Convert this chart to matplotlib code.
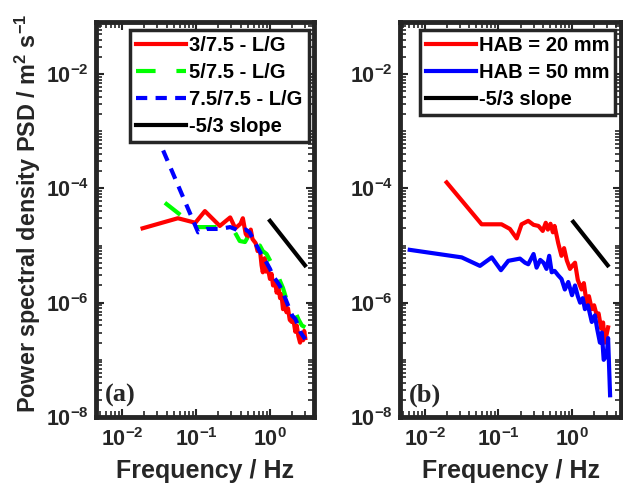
import matplotlib
matplotlib.use('Agg')
import matplotlib.pyplot as plt
import matplotlib.ticker as mticker

plt.rcParams['font.family'] = 'Liberation Sans'
plt.rcParams['font.weight'] = 'bold'
plt.rcParams['mathtext.fontset'] = 'custom'
plt.rcParams['mathtext.rm'] = 'Liberation Sans:bold'
plt.rcParams['mathtext.it'] = 'Liberation Sans:bold'
plt.rcParams['mathtext.bf'] = 'Liberation Sans:bold'
plt.rcParams['axes.unicode_minus'] = False

FRAME = '#262626'

# ---- panel (a): liquid/gas ratios ----
f_red_a = [0.019, 0.057, 0.098, 0.132, 0.21, 0.29, 0.34, 0.40, 0.43, 0.47, 0.50,
           0.55, 0.58, 0.64, 0.68, 0.73, 0.77, 0.80, 0.85, 0.88, 0.93, 1.0, 1.05,
           1.10, 1.17, 1.23, 1.30, 1.37, 1.43, 1.50, 1.58, 1.67, 1.75, 1.85, 1.97,
           2.05, 2.2, 2.3, 2.42, 2.55, 2.68, 2.8, 2.9, 3.0]
p_red_a = [2.0e-5, 3.0e-5, 2.5e-5, 4.0e-5, 2.2e-5, 3.1e-5, 2.0e-5, 2.4e-5, 3.0e-5, 1.6e-5, 1.4e-5,
           1.9e-5, 1.3e-5, 1.1e-5, 8.0e-6, 8.7e-6, 4.5e-6, 3.4e-6, 6.0e-6, 3.5e-6, 4.2e-6, 2.6e-6, 3.2e-6,
           2.0e-6, 2.4e-6, 1.5e-6, 1.9e-6, 1.2e-6, 1.4e-6, 7.7e-7, 1.0e-6, 6.8e-7, 8.0e-7, 5.0e-7, 4.6e-7,
           5.5e-7, 3.1e-7, 4.0e-7, 2.6e-7, 2.0e-7, 2.8e-7, 2.2e-7, 3.2e-7, 2.4e-7]

f_green_a = [0.038, 0.10, 0.21, 0.32, 0.39, 0.46, 0.53, 0.60, 0.66, 0.73, 0.80, 0.90,
             1.0, 1.1, 1.23, 1.35, 1.50, 1.67, 1.85, 2.0, 2.2, 2.45, 2.7, 3.0]
p_green_a = [5.6e-5, 2.1e-5, 2.1e-5, 1.9e-5, 1.2e-5, 1.15e-5, 1.6e-5, 1.3e-5, 1.0e-5, 1.0e-5, 8.0e-6, 7.1e-6,
             5.5e-6, 4.2e-6, 3.6e-6, 2.5e-6, 1.8e-6, 1.15e-6, 1.0e-6, 7.5e-7, 6.8e-7, 5.0e-7, 4.0e-7, 3.7e-7]

f_blue_a = [0.036, 0.107, 0.14, 0.21, 0.29, 0.39, 0.47, 0.53, 0.66, 0.80, 0.90, 1.0,
            1.1, 1.23, 1.35, 1.5, 1.76, 2.0, 2.2, 2.4, 2.6, 2.8, 3.0]
p_blue_a = [4.6e-4, 1.7e-5, 1.95e-5, 1.95e-5, 2.1e-5, 1.8e-5, 1.9e-5, 1.7e-5, 1.0e-5, 6.3e-6, 5.0e-6, 3.9e-6,
            2.9e-6, 2.4e-6, 2.0e-6, 1.5e-6, 8.9e-7, 5.9e-7, 5.2e-7, 4.0e-7, 3.0e-7, 2.6e-7, 2.3e-7]

# ---- panel (b): height above burner ----
f_red_b = [0.0197, 0.059, 0.11, 0.143, 0.177, 0.206, 0.254, 0.30, 0.35, 0.40, 0.44, 0.47,
           0.51, 0.55, 0.58, 0.65, 0.72, 0.78, 0.85, 0.94, 1.02, 1.1, 1.2, 1.35, 1.45,
           1.58, 1.7, 1.86, 2.0, 2.18, 2.3, 2.5, 2.65, 2.8, 3.1]
p_red_b = [1.27e-4, 2.35e-5, 2.35e-5, 1.95e-5, 1.33e-5, 2.35e-5, 2.7e-5, 2.3e-5, 2.2e-5, 1.8e-5, 2.5e-5, 1.9e-5,
           2.4e-5, 1.7e-5, 2.2e-5, 1.1e-5, 6.6e-6, 9.0e-6, 5.5e-6, 3.9e-6, 4.5e-6, 5.0e-6, 2.5e-6, 1.7e-6, 2.2e-6,
           1.0e-6, 1.3e-6, 7.7e-7, 9.0e-7, 5.9e-7, 6.5e-7, 3.5e-7, 4.5e-7, 2.0e-7, 3.7e-7]

f_blue_b = [0.0062, 0.0316, 0.056, 0.081, 0.108, 0.136, 0.196, 0.23, 0.254, 0.30, 0.33, 0.37,
            0.41, 0.45, 0.49, 0.53, 0.58, 0.65, 0.72, 0.80, 0.89, 1.0, 1.1, 1.2, 1.29,
            1.4, 1.5, 1.65, 1.86, 2.05, 2.2, 2.4, 2.55, 2.7, 2.97, 3.1, 3.3]
p_blue_b = [8.4e-6, 6.2e-6, 4.4e-6, 6.2e-6, 3.7e-6, 5.4e-6, 5.9e-6, 5.0e-6, 4.7e-6, 7.1e-6, 4.1e-6, 5.6e-6,
            5.0e-6, 3.9e-6, 6.6e-6, 3.4e-6, 3.6e-6, 3.0e-6, 2.6e-6, 1.7e-6, 2.3e-6, 1.35e-6, 2.0e-6, 1.3e-6, 1.0e-6,
            1.2e-6, 7.7e-7, 9.0e-7, 4.6e-7, 6.0e-7, 3.5e-7, 2.0e-7, 3.0e-7, 1.0e-7, 1.2e-7, 2.4e-7, 2.4e-8]

# -5/3 reference slope
f_slope_a = [1.0, 2.97]
p_slope_a = [2.7e-5, 4.5e-6]
f_slope_b = [1.04, 3.06]
p_slope_b = [2.6e-5, 4.5e-6]


def style_axes(ax, xlim):
    ax.set_xscale('log')
    ax.set_yscale('log')
    ax.set_xlim(xlim)
    ax.set_ylim(1e-8, 10 ** -1.09)
    ax.yaxis.set_major_locator(mticker.FixedLocator([1e-8, 1e-6, 1e-4, 1e-2]))
    ax.yaxis.set_minor_locator(mticker.LogLocator(base=10, subs=range(1, 10), numticks=30))
    ax.yaxis.set_minor_formatter(mticker.NullFormatter())
    ax.xaxis.set_major_locator(mticker.FixedLocator([1e-2, 1e-1, 1e0]))
    ax.xaxis.set_minor_locator(mticker.LogLocator(base=10, subs=range(1, 10), numticks=30))
    ax.xaxis.set_minor_formatter(mticker.NullFormatter())
    ax.xaxis.set_major_formatter(mticker.LogFormatterSciNotation())
    ax.yaxis.set_major_formatter(mticker.LogFormatterSciNotation())
    ax.tick_params(which='both', direction='in', top=True, right=True, colors=FRAME,
                   labelcolor=FRAME, labelsize=15.5)
    ax.tick_params(which='major', length=5.5, width=1.5, pad=5)
    ax.tick_params(axis='x', which='major', pad=8)
    ax.tick_params(which='minor', length=4, width=1.2)
    for sp in ax.spines.values():
        sp.set_linewidth(3.5)
        sp.set_color(FRAME)
    ax.set_xlabel('Frequency / Hz', fontsize=18, fontweight='bold', color=FRAME, labelpad=6)


fig = plt.figure(figsize=(6.23, 4.96), dpi=100)
ax1 = fig.add_axes([96 / 623, 79 / 496, 218 / 623, 395 / 496])
ax2 = fig.add_axes([400 / 623, 79 / 496, 221 / 623, 395 / 496])

lw = 3.0
ax1.plot(f_red_a, p_red_a, color='#ff0000', lw=lw, label='3/7.5 - L/G')
ax1.plot(f_green_a, p_green_a, color='#00ff00', lw=lw, ls=(0, (4.7, 5.0)), label='5/7.5 - L/G')
ax1.plot(f_blue_a, p_blue_a, color='#0000ff', lw=lw, ls=(0, (2.7, 2.0)), label='7.5/7.5 - L/G')
ax1.plot(f_slope_a, p_slope_a, color='black', lw=lw, label='-5/3 slope')
style_axes(ax1, (10 ** -2.351, 10 ** 0.595))
ax1.set_ylabel('Power spectral density PSD / m$^2$ s$^{-1}$', fontsize=16.8,
               fontweight='bold', color=FRAME)
ax1.yaxis.set_label_coords(-0.245, 0.516)
ax1.text(0.04, 0.04, '(a)', transform=ax1.transAxes, fontsize=19, fontweight='bold',
         family='Liberation Serif', color=FRAME)

ax2.plot(f_red_b, p_red_b, color='#ff0000', lw=lw, label='HAB = 20 mm')
ax2.plot(f_blue_b, p_blue_b, color='#0000ff', lw=lw, label='HAB = 50 mm')
ax2.plot(f_slope_b, p_slope_b, color='black', lw=lw, label='-5/3 slope')
style_axes(ax2, (10 ** -2.34, 10 ** 0.667))
ax2.text(0.04, 0.04, '(b)', transform=ax2.transAxes, fontsize=19, fontweight='bold',
         family='Liberation Serif', color=FRAME)

for ax in (ax1, ax2):
    leg = ax.legend(loc='upper right', bbox_to_anchor=(0.975, 0.98), borderaxespad=0,
                    fontsize=14.5, handlelength=2.5, handletextpad=0.15, labelspacing=0.4,
                    borderpad=0.3, fancybox=False, framealpha=1)
    leg.get_frame().set_edgecolor(FRAME)
    leg.get_frame().set_linewidth(2.5)

fig.savefig('out.png', dpi=100)
